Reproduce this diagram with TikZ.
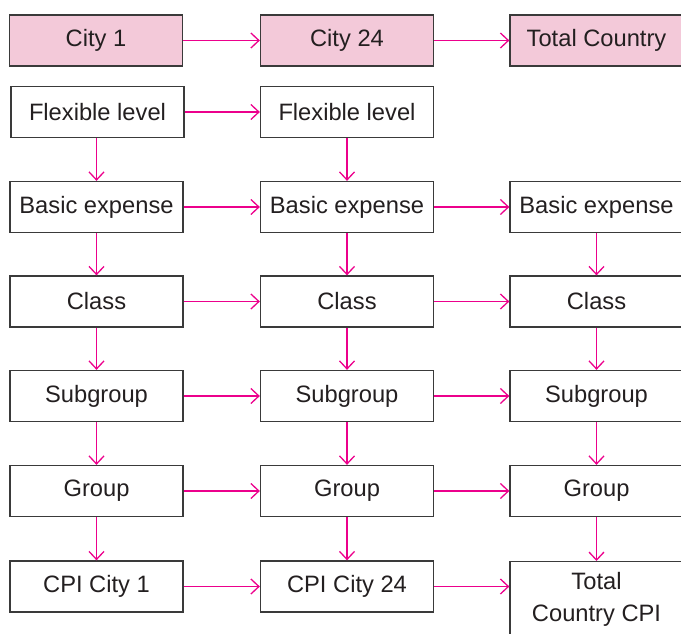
\documentclass[tikz,border=0pt]{standalone}
\usepackage{fontspec}
\setmainfont{Liberation Sans}
\usetikzlibrary{arrows.meta}
\definecolor{pinkfill}{HTML}{F3C9D9}
\definecolor{arrowc}{HTML}{EC008C}
\definecolor{boxline}{HTML}{3A3A3A}
\definecolor{txt}{HTML}{231F20}
\tikzset{
  box/.style={draw=boxline, line width=1.3bp, fill=white, minimum width=173bp, minimum height=51bp, inner sep=0pt, text=txt, font=\fontsize{23.7bp}{32bp}\selectfont, align=center},
  cityb/.style={box, fill=pinkfill},
  conn/.style={draw=arrowc, line width=1.3bp, -{Straight Barb[length=8bp,width=15bp,line width=1.3bp]}}
}
\begin{document}
\begin{tikzpicture}[x=1bp,y=-1bp]
\path[use as bounding box] (0,0) rectangle (681,634);
\clip (0,0) rectangle (681,634);
% row 0
\node[cityb] (c1) at (96,40.5) {City 1};
\node[cityb] (c2) at (347,40.5) {City 24};
\node[cityb] (c3) at (596.5,40.5) {Total Country};
% row 1
\node[box] (f1) at (97.5,112) {Flexible level};
\node[box] (f2) at (347,112) {Flexible level};
% row 2
\node[box] (b1) at (96.5,207) {Basic expense};
\node[box] (b2) at (347,207) {Basic expense};
\node[box] (b3) at (596.5,207) {Basic expense};
% row 3
\node[box] (k1) at (96.5,301.5) {Class};
\node[box] (k2) at (347,301.5) {Class};
\node[box] (k3) at (596.5,301.5) {Class};
% row 4
\node[box] (s1) at (96.5,396) {Subgroup};
\node[box] (s2) at (347,396) {Subgroup};
\node[box] (s3) at (596.5,396) {Subgroup};
% row 5
\node[box] (g1) at (96.5,491) {Group};
\node[box] (g2) at (347,491) {Group};
\node[box] (g3) at (596.5,491) {Group};
% row 6
\node[box] (p1) at (96.5,586.5) {CPI City 1};
\node[box] (p2) at (347,586.5) {CPI City 24};
\node[box, minimum height=76bp, anchor=north] (p3) at (596.5,561) {Total\\Country CPI};
% horizontal arrows
\draw[conn] (c1.east) -- (c2.west);
\draw[conn] (c2.east) -- (c3.west);
\draw[conn] (f1.east) -- (f2.west);
\draw[conn] (b1.east) -- (b2.west);
\draw[conn] (b2.east) -- (b3.west);
\draw[conn] (k1.east) -- (k2.west);
\draw[conn] (k2.east) -- (k3.west);
\draw[conn] (s1.east) -- (s2.west);
\draw[conn] (s2.east) -- (s3.west);
\draw[conn] (g1.east) -- (g2.west);
\draw[conn] (g2.east) -- (g3.west);
\draw[conn] (p1.east) -- (p2.west);
\draw[conn] (p2.east) -- (p2.east -| p3.west);
% vertical arrows
\draw[conn] (f1.south -| b1.north) -- (b1.north);
\draw[conn] (f2.south) -- (b2.north);
\draw[conn] (b1.south) -- (k1.north);
\draw[conn] (b2.south) -- (k2.north);
\draw[conn] (b3.south) -- (k3.north);
\draw[conn] (k1.south) -- (s1.north);
\draw[conn] (k2.south) -- (s2.north);
\draw[conn] (k3.south) -- (s3.north);
\draw[conn] (s1.south) -- (g1.north);
\draw[conn] (s2.south) -- (g2.north);
\draw[conn] (s3.south) -- (g3.north);
\draw[conn] (g1.south) -- (p1.north);
\draw[conn] (g2.south) -- (p2.north);
\draw[conn] (g3.south) -- (p3.north);
\end{tikzpicture}
\end{document}
